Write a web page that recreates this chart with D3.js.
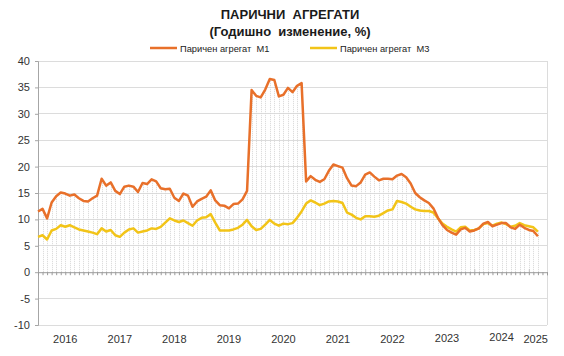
<!DOCTYPE html>
<html><head><meta charset="utf-8">
<script src="https://cdn.jsdelivr.net/npm/d3@7/dist/d3.min.js"></script>
<style>
body{margin:0;background:#fff;}
svg{display:block;font-family:"Liberation Sans",Arial,sans-serif;}
</style></head>
<body>
<svg id="c" width="564" height="356"></svg>
<script>
const title = "ПАРИЧНИ  АГРЕГАТИ";
const subtitle = "(Годишно  изменение, %)";
const seriesNames = ["Паричен агрегат  М1", "Паричен агрегат  М3"];
const startYear = 2016;
const yearLabels = ["2016","2017","2018","2019","2020","2021","2022","2023","2024","2025"];
const yTicks = [-10,-5,0,5,10,15,20,25,30,35,40];

// Monthly data from Jan 2016 to Mar 2025
const m1 = [
 11.5,12.0,10.2,13.2,14.4,15.1,14.9,14.5,14.7,14.0,13.5,13.4,
 14.0,14.5,17.7,16.4,17.0,15.4,14.8,16.2,16.4,16.2,15.2,16.9,
 16.7,17.6,17.2,15.9,15.7,15.8,14.1,13.5,14.9,14.5,12.4,13.4,
 13.9,14.3,15.5,13.6,12.7,12.6,12.1,12.9,13.0,13.8,15.4,34.5,
 33.4,33.1,34.6,36.6,36.4,33.3,33.6,34.9,34.1,35.3,35.8,17.2,
 18.2,17.5,17.1,17.6,19.2,20.4,20.1,19.8,17.8,16.4,16.3,17.0,
 18.5,18.9,18.1,17.4,17.7,17.7,17.6,18.3,18.6,18.0,16.8,15.0,
 14.2,13.6,13.1,12.1,10.3,8.9,8.0,7.5,7.1,8.1,8.4,7.7,
 7.9,8.3,9.2,9.5,8.7,9.0,9.3,9.3,8.5,8.2,9.0,8.4,
 8.0,7.8,6.8
];
const m3 = [
 6.7,7.0,6.2,7.9,8.2,8.9,8.6,8.9,8.5,8.1,7.9,7.7,
 7.5,7.2,8.3,7.7,8.0,7.0,6.7,7.5,8.1,8.3,7.5,7.7,
 7.9,8.3,8.2,8.6,9.4,10.2,9.8,9.5,9.8,9.3,8.8,9.8,
 10.3,10.4,11.0,9.4,7.9,7.9,7.9,8.1,8.4,9.0,9.9,8.7,
 8.0,8.2,9.0,9.9,9.2,8.8,9.2,9.1,9.3,10.3,11.5,13.0,
 13.6,13.2,12.7,13.0,13.4,13.5,13.4,13.1,11.3,10.9,10.3,10.0,
 10.6,10.6,10.5,10.7,11.2,11.7,11.9,13.5,13.3,13.0,12.4,11.9,
 11.7,11.6,11.6,11.3,10.2,9.2,8.6,8.1,7.7,8.5,8.6,7.9,
 8.0,8.3,9.1,9.3,8.8,9.2,9.4,9.1,8.6,8.8,9.3,8.9,
 8.7,8.5,7.7
];
const colors = ["#E8702A", "#F2C418"];

const svg = d3.select("#c");
const L = 38, R = 547, T = 61, B = 325;
const nCats = 112;
const x = d3.scaleLinear().domain([0, nCats]).range([L, R]);
const y = d3.scaleLinear().domain([-10, 40]).range([B, T]);

// Title
svg.append("text").attr("x", 290).attr("y", 19).attr("text-anchor","middle")
  .attr("font-size", 13).attr("font-weight","bold").attr("fill","#1a1a1a")
  .style("white-space","pre").text(title);
svg.append("text").attr("x", 290).attr("y", 36).attr("text-anchor","middle")
  .attr("font-size", 13).attr("font-weight","bold").attr("fill","#1a1a1a")
  .style("white-space","pre").text(subtitle);

// Legend
const legX = [150, 310];
seriesNames.forEach((n, k) => {
  svg.append("line").attr("x1", legX[k]).attr("x2", legX[k] + 27)
    .attr("y1", 48).attr("y2", 48).attr("stroke", colors[k]).attr("stroke-width", 2.5);
  svg.append("text").attr("x", legX[k] + 30).attr("y", 51.5)
    .attr("font-size", 9.3).attr("fill","#222").style("white-space","pre").text(n);
});

// Gridlines
svg.append("g").selectAll("line").data(yTicks).join("line")
  .attr("x1", L).attr("x2", R).attr("y1", d => y(d)).attr("y2", d => y(d))
  .attr("stroke", d => d === 0 ? "none" : "#dcdcdc").attr("stroke-width", 1)
  .attr("shape-rendering","crispEdges");
// right border
svg.append("line").attr("x1", R).attr("x2", R).attr("y1", T).attr("y2", B)
  .attr("stroke", "#dcdcdc").attr("shape-rendering","crispEdges");

// Drop lines
const idx = d3.range(m1.length);
svg.append("g").selectAll("line").data(idx).join("line")
  .attr("x1", i => Math.round(x(i)) + 0.5).attr("x2", i => Math.round(x(i)) + 0.5)
  .attr("y1", y(0)).attr("y2", i => y(Math.max(m1[i], m3[i])))
  .attr("stroke", "#d6d6d6").attr("stroke-width", 1).attr("stroke-dasharray", "1,1");

// Y axis
const yAxis = d3.axisLeft(y).tickValues(yTicks).tickSize(3).tickPadding(5)
  .tickFormat(d => String(d));
const gy = svg.append("g").attr("transform", `translate(${L},0)`).call(yAxis);
gy.select(".domain").attr("stroke", "#a6a6a6");
gy.selectAll(".tick line").attr("stroke", "#a6a6a6");
gy.selectAll(".tick text").attr("font-size", 11).attr("fill","#333")
  .attr("font-family","Liberation Sans, Arial, sans-serif");

// Zero axis with month ticks
const gx = svg.append("g").attr("transform", `translate(0,${y(0)})`)
  .call(d3.axisBottom(x).tickValues(d3.range(0, nCats + 1)).tickSize(3).tickFormat(""));
gx.select(".domain").attr("stroke", "#9a9a9a");
gx.selectAll(".tick line").attr("stroke", "#9a9a9a");
const yearTicks = svg.append("g").attr("transform", `translate(0,${y(0)})`)
  .call(d3.axisTop(x).tickValues(d3.range(12, nCats, 12)).tickSize(3).tickFormat(""));
yearTicks.select(".domain").remove();
yearTicks.selectAll(".tick line").attr("stroke", "#c0c0c0");

// Year labels
const yearPos = yearLabels.map((yl, k) => k < yearLabels.length - 1 ? 12 * k + 6 : 12 * k + (m1.length - 12 * k) / 2);
const yearDy = [0,0,0,0,0,0,0,-1.5,-2,0];
svg.append("g").selectAll("text").data(yearLabels).join("text")
  .attr("x", (d, k) => x(yearPos[k])).attr("y", (d, k) => 343 + yearDy[k])
  .attr("text-anchor","middle").attr("font-size", 11).attr("fill","#333").text(d => d);

// Lines
const line = d3.line().x((d, i) => x(i)).y(d => y(d));
[m3, m1].forEach((s, k) => {
  svg.append("path").datum(s).attr("d", line).attr("fill","none")
    .attr("stroke", k === 0 ? colors[1] : colors[0]).attr("stroke-width", 2.5)
    .attr("stroke-linejoin","round");
});
</script>
</body></html>
